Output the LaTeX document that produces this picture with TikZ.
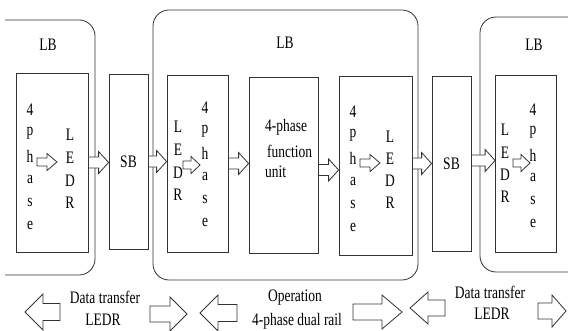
\documentclass[tikz,border=0pt]{standalone}
\usepackage{fontspec}
\setmainfont{Liberation Serif}
\usepackage{graphicx}
\usetikzlibrary{calc}
\tikzset{
  ln/.style={draw=black!80, line width=0.8pt},
  box/.style={ln, rectangle, inner sep=0pt},
  lbbox/.style={ln, rounded corners=16pt},
  txt/.style={inner sep=0pt, font=\fontsize{13.5}{15}\selectfont},
  blk/.style={ln, fill=white, line join=miter},
}
\newcommand\st[1]{\scalebox{1}[1.3]{#1}}
\newcommand\blockarr[5]{%
  \draw[blk] let \p1=(#1), \p2=(#2) in
  (\x1,{\y1+#3}) -- ({\x2-(#5)},{\y1+#3}) -- ({\x2-(#5)},{\y1+#4}) -- (\x2,\y1)
  -- ({\x2-(#5)},{\y1-#4}) -- ({\x2-(#5)},{\y1-#3}) -- (\x1,{\y1-#3}) -- cycle;}
\begin{document}
\begin{tikzpicture}[x=1pt,y=-1pt]
\useasboundingbox (0,0) rectangle (568,331);
% LB containers
\draw[lbbox] (5,20) -- (95,20) -- (95,275) -- (5,275);
\node[box, rounded corners=16pt, minimum width=265pt, minimum height=270pt] (M) at (285.5,145) {};
\draw[lbbox] (570,17) -- (480,17) -- (480,272) -- (570,272);
\node[txt] (lb1) at (48,45) {\st{LB}};
\node[txt] (lb2) at (285,43) {\st{LB}};
\node[txt] (lb3) at (534,45) {\st{LB}};
% inner boxes
\node[box, minimum width=72pt, minimum height=179pt] (A) at (52,162.5) {};
\node[box, txt, draw=black!80, line width=0.8pt, minimum width=39pt, minimum height=175pt] (S1) at (128.5,161.5) {\st{SB}};
\node[box, minimum width=61pt, minimum height=177pt] (B) at (197.5,163.5) {};
\node[box, minimum width=69pt, minimum height=176pt] (F) at (283.5,165) {};
\node[box, minimum width=73pt, minimum height=179pt] (C) at (375.5,165.5) {};
\node[box, txt, draw=black!80, line width=0.8pt, minimum width=39pt, minimum height=175pt] (S2) at (451.5,163.5) {\st{SB}};
\node[box, minimum width=61pt, minimum height=177pt] (D) at (526,163.5) {};
% letter columns
\foreach \c [count=\i] in {4,p,h,a,s,e} {
  \node[txt] (Ap\i) at (30,{110+23*(\i-1)}) {\st{\c}};
  \node[txt] (Bp\i) at (205,{108+22.8*(\i-1)}) {\st{\c}};
  \node[txt] (Cp\i) at (353,{112+23*(\i-1)}) {\st{\c}};
  \node[txt] (Dp\i) at (533,{110+22.6*(\i-1)}) {\st{\c}};
}
\foreach \c [count=\i] in {L,E,D,R} {
  \node[txt] (Al\i) at (70,{135+22.7*(\i-1)}) {\st{\c}};
  \node[txt] (Bl\i) at (178,{127+22.7*(\i-1)}) {\st{\c}};
  \node[txt] (Cl\i) at (390,{137+22*(\i-1)}) {\st{\c}};
  \node[txt] (Dl\i) at (505,{130+22.4*(\i-1)}) {\st{\c}};
}
% function unit text
\node[txt, anchor=west] (f1) at (265,127) {\st{4-phase}};
\node[txt, anchor=west] (f2) at (267,151) {\st{function}};
\node[txt, anchor=west] (f3) at (265,172) {\st{unit}};
% connectors between boxes
\blockarr{A.east}{S1.west}{5.5pt}{11pt}{10pt}
\blockarr{S1.east}{B.west}{5.5pt}{11pt}{10pt}
\blockarr{B.east}{F.west}{5.5pt}{11pt}{10pt}
\blockarr{[yshift=-5pt]F.east}{C.west}{5.5pt}{11pt}{10pt}
\blockarr{[yshift=2pt]C.east}{S2.west}{5.5pt}{11pt}{10pt}
\blockarr{[yshift=3pt]S2.east}{D.west}{5.5pt}{11pt}{10pt}
% small arrows inside boxes
\coordinate (a1) at (37,162); \coordinate (a2) at (57,162);
\coordinate (b1) at (183,165); \coordinate (b2) at (200,165);
\coordinate (c1) at (360,163); \coordinate (c2) at (380,163);
\coordinate (d1) at (513,163); \coordinate (d2) at (530,163);
\blockarr{a1}{a2}{4pt}{8.5pt}{10pt}
\blockarr{b1}{b2}{4pt}{8.5pt}{9pt}
\blockarr{c1}{c2}{4pt}{8.5pt}{10pt}
\blockarr{d1}{d2}{4pt}{8.5pt}{9pt}
% bottom arrows
\coordinate (l1e) at (60,312); \coordinate (l1t) at (25,312);
\coordinate (r1e) at (150,314); \coordinate (r1t) at (187,314);
\coordinate (l2e) at (237,313); \coordinate (l2t) at (200,313);
\coordinate (r2e) at (353,312); \coordinate (r2t) at (402,312);
\coordinate (l3e) at (445,308); \coordinate (l3t) at (410,308);
\coordinate (r3e) at (538,311); \coordinate (r3t) at (566,311);
\blockarr{l1e}{l1t}{8.5pt}{18pt}{-18pt}
\blockarr{r1e}{r1t}{8pt}{17pt}{17pt}
\blockarr{l2e}{l2t}{8.5pt}{18pt}{-18pt}
\blockarr{r2e}{r2t}{8pt}{17pt}{20pt}
\blockarr{l3e}{l3t}{8pt}{16pt}{-18pt}
\blockarr{r3e}{r3t}{8pt}{16pt}{14pt}
% bottom labels
\node[txt] (t1) at (105,297) {\st{Data transfer}};
\node[txt] (t2) at (103,320) {\st{LEDR}};
\node[txt] (t3) at (295,298) {\st{Operation}};
\node[txt] (t4) at (297,321) {\st{4-phase dual rail}};
\node[txt] (t5) at (490,292) {\st{Data transfer}};
\node[txt] (t6) at (492,314) {\st{LEDR}};
\end{tikzpicture}
\end{document}
